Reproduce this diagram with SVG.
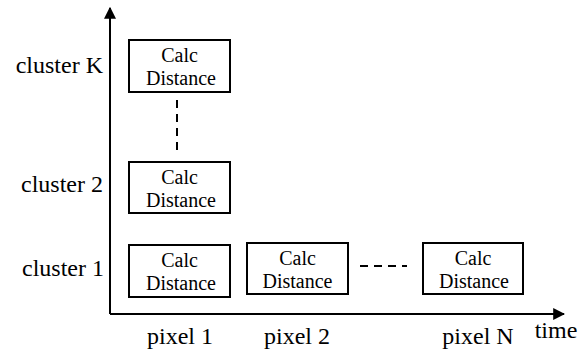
<svg xmlns="http://www.w3.org/2000/svg" width="587" height="352" viewBox="0 0 587 352">
<style>
.box{fill:#fff;stroke:#000;stroke-width:2}
.bt{font-family:"Liberation Serif","Times New Roman",serif;font-size:20px;text-anchor:middle;fill:#000}
.lb{font-family:"Liberation Serif","Times New Roman",serif;font-size:24px;fill:#000}
.ax{stroke:#000;stroke-width:2;fill:none}
.dash{stroke:#000;stroke-width:2;stroke-dasharray:8,6;fill:none}
</style>
<defs>
<marker id="ah" viewBox="0 0 10 10" refX="9" refY="5" markerWidth="12" markerHeight="12" markerUnits="userSpaceOnUse" orient="auto">
<path d="M0,0 L10,5 L0,10 Z" fill="#000"/>
</marker>
</defs>
<g id="connectors">
<path class="ax" d="M110,314 L110,8" marker-end="url(#ah)"/>
<path class="ax" d="M110,314 L564,314" marker-end="url(#ah)"/>
<path class="dash" d="M177,100 L177,153"/>
<path class="dash" d="M360,266 L407,266"/>
</g>
<g id="labels">
<text class="lb" x="103" y="73" text-anchor="end">cluster K</text>
<text class="lb" x="103" y="192" text-anchor="end">cluster 2</text>
<text class="lb" x="104" y="276" text-anchor="end">cluster 1</text>
<text class="lb" x="180" y="344" text-anchor="middle">pixel 1</text>
<text class="lb" x="297" y="344" text-anchor="middle">pixel 2</text>
<text class="lb" x="478" y="344" text-anchor="middle">pixel N</text>
<text class="lb" x="556" y="338" text-anchor="middle">time</text>
</g>
<g id="nodeK">
<rect class="box" x="129" y="40" width="101" height="52"/>
<text class="bt" x="179.5" y="62">Calc</text>
<text class="bt" x="181" y="85">Distance</text>
</g>
<g id="node2">
<rect class="box" x="129" y="162" width="101" height="51"/>
<text class="bt" x="179.5" y="184">Calc</text>
<text class="bt" x="181" y="207">Distance</text>
</g>
<g id="node1">
<rect class="box" x="129" y="245" width="101" height="52"/>
<text class="bt" x="179.5" y="267">Calc</text>
<text class="bt" x="181" y="290">Distance</text>
</g>
<g id="nodeP2">
<rect class="box" x="247" y="243" width="101" height="51"/>
<text class="bt" x="297.5" y="265">Calc</text>
<text class="bt" x="297.5" y="288">Distance</text>
</g>
<g id="nodePN">
<rect class="box" x="423" y="243" width="100" height="51"/>
<text class="bt" x="473" y="265">Calc</text>
<text class="bt" x="474" y="288">Distance</text>
</g>
</svg>
